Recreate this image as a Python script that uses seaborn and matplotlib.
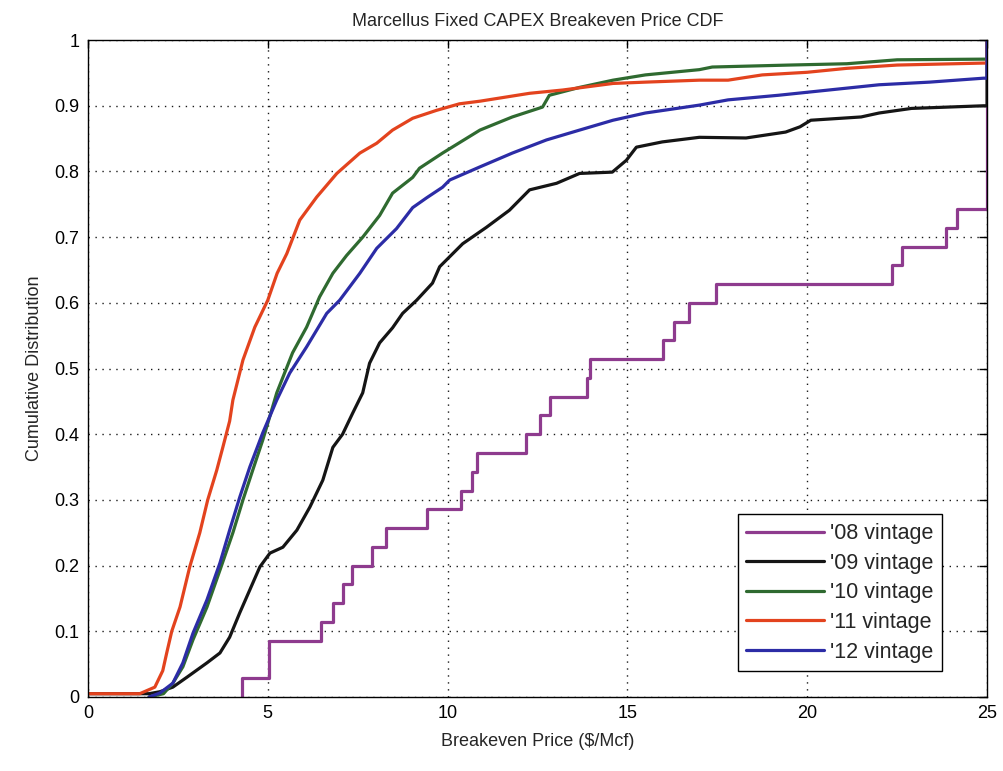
import matplotlib
matplotlib.use("Agg")
import matplotlib.pyplot as plt
import seaborn as sns
import pandas as pd
import numpy as np

# '08 vintage: individual breakeven prices (35 wells; prices capped at 25)
v08_prices = [4.28, 5.03, 5.03, 6.47, 6.80, 7.08, 7.33, 7.90, 8.28, 9.44,
              10.36, 10.67, 10.83, 12.17, 12.58, 12.86, 13.89, 13.97, 16.00,
              16.30, 16.72, 17.47, 22.36, 22.64, 23.86, 24.17,
              25, 25, 25, 25, 25, 25, 25, 25, 25]

# '09 vintage CDF
v09_x = [0.0, 1.7, 2.0, 2.36, 2.75, 3.31, 3.67, 3.94, 4.22, 4.5, 4.78, 5.06, 5.42,
         5.81, 6.17, 6.53, 6.81, 7.08, 7.36, 7.64, 7.83, 8.11, 8.47, 8.75, 9.14,
         9.58, 9.78, 10.42, 11.08, 11.72, 12.28, 13.03, 13.67, 14.58, 14.97,
         15.25, 15.97, 17.0, 18.3, 19.4, 19.8, 20.1, 21.5, 22.0, 22.9, 24.9, 25.0, 25.0]
v09_y = [0.005, 0.005, 0.008, 0.015, 0.03, 0.052, 0.067, 0.091, 0.128, 0.163, 0.198,
         0.219, 0.228, 0.254, 0.289, 0.33, 0.38, 0.40, 0.432, 0.463, 0.508, 0.539,
         0.562, 0.584, 0.604, 0.63, 0.655, 0.69, 0.715, 0.741, 0.772, 0.782, 0.797,
         0.799, 0.817, 0.837, 0.845, 0.852, 0.851, 0.86, 0.868, 0.878, 0.883, 0.889,
         0.896, 0.90, 0.90, 1.0]

# '10 vintage CDF
v10_x = [1.7, 2.1, 2.36, 2.64, 2.92, 3.31, 3.67, 4.03, 4.31, 4.58, 4.86, 4.97, 5.25,
         5.69, 6.08, 6.44, 6.81, 7.19, 7.64, 8.11, 8.47, 9.03, 9.22, 9.86, 10.9,
         11.8, 12.64, 12.83, 13.67, 14.6, 15.5, 17.0, 17.36, 19.5, 21.1, 22.5, 24.9,
         25.0, 25.0]
v10_y = [0.0, 0.005, 0.021, 0.046, 0.087, 0.137, 0.193, 0.25, 0.30, 0.345, 0.391,
         0.411, 0.463, 0.524, 0.563, 0.609, 0.645, 0.672, 0.70, 0.733, 0.767, 0.791,
         0.805, 0.828, 0.863, 0.883, 0.898, 0.916, 0.928, 0.939, 0.947, 0.955, 0.959,
         0.962, 0.964, 0.97, 0.971, 0.971, 1.0]

# '11 vintage CDF
v11_x = [0.0, 1.44, 1.86, 2.08, 2.19, 2.33, 2.56, 2.83, 3.11, 3.33, 3.58, 3.75, 3.94,
         4.03, 4.31, 4.64, 5.0, 5.26, 5.53, 5.89, 6.36, 6.92, 7.56, 8.03, 8.47,
         9.03, 9.69, 10.33, 10.9, 12.28, 13.2, 14.6, 15.5, 17.0, 17.8, 18.75, 20.0,
         21.1, 22.5, 24.9, 25.0, 25.0]
v11_y = [0.005, 0.005, 0.015, 0.04, 0.067, 0.10, 0.137, 0.198, 0.25, 0.30, 0.345,
         0.38, 0.42, 0.452, 0.513, 0.563, 0.604, 0.645, 0.675, 0.726, 0.761, 0.797,
         0.828, 0.843, 0.863, 0.881, 0.893, 0.903, 0.907, 0.919, 0.924, 0.934, 0.936,
         0.939, 0.939, 0.947, 0.951, 0.957, 0.962, 0.965, 0.965, 1.0]

# '12 vintage CDF
v12_x = [1.7, 2.0, 2.36, 2.64, 2.92, 3.31, 3.67, 3.94, 4.22, 4.5, 4.86, 5.25, 5.61,
         6.08, 6.64, 7.0, 7.56, 8.03, 8.58, 9.03, 9.42, 9.86, 10.06, 10.9, 11.8,
         12.75, 13.67, 14.6, 15.5, 17.0, 17.8, 19.2, 20.6, 22.0, 23.4, 24.9, 25.0, 25.0]
v12_y = [0.0, 0.006, 0.021, 0.052, 0.097, 0.148, 0.204, 0.254, 0.304, 0.35, 0.402,
         0.452, 0.493, 0.533, 0.584, 0.604, 0.645, 0.683, 0.713, 0.745, 0.760, 0.776,
         0.787, 0.807, 0.828, 0.848, 0.863, 0.878, 0.889, 0.901, 0.909, 0.916, 0.924,
         0.932, 0.936, 0.942, 0.942, 1.0]

labels = ["'08 vintage", "'09 vintage", "'10 vintage", "'11 vintage", "'12 vintage"]
colors = ["#8E3B8E", "#151515", "#2F6A30", "#E3431E", "#2C2CA6"]

sns.set_theme(style="white")
plt.rcParams['font.family'] = ['Liberation Sans Narrow', 'Liberation Sans', 'DejaVu Sans']

fig = plt.figure(figsize=(10.04, 7.71), dpi=100)
ax = fig.add_axes([0.0876, 0.096, 0.8955, 0.852])

lw = 2.3
sns.ecdfplot(x=v08_prices, ax=ax, color=colors[0], linewidth=lw, label=labels[0])
curves = [(v09_x, v09_y), (v10_x, v10_y), (v11_x, v11_y), (v12_x, v12_y)]
for (cx, cy), lab, col in zip(curves, labels[1:], colors[1:]):
    df = pd.DataFrame({"x": cx, "y": cy})
    sns.lineplot(data=df, x="x", y="y", ax=ax, sort=False, estimator=None,
                 color=col, linewidth=lw, label=lab)

ax.set_xlim(0, 25)
ax.set_ylim(0, 1)
ax.set_xticks([0, 5, 10, 15, 20, 25])
ax.set_yticks(np.round(np.arange(0, 1.01, 0.1), 1))
ax.set_xticklabels(["0", "5", "10", "15", "20", "25"])
ax.set_yticklabels(["0", "0.1", "0.2", "0.3", "0.4", "0.5", "0.6", "0.7", "0.8", "0.9", "1"])
ax.grid(True, linestyle=(0, (1, 4)), color="black", linewidth=1.0, alpha=0.9)
ax.tick_params(direction="in", length=6, width=1, top=True, right=True,
               labelsize=13, colors="black", pad=6)
for s in ax.spines.values():
    s.set_visible(True)
    s.set_color("black")
    s.set_linewidth(1.0)

ax.set_title("Marcellus Fixed CAPEX Breakeven Price CDF", fontsize=13, pad=10)
ax.set_xlabel("Breakeven Price ($/Mcf)", fontsize=13, labelpad=8)
ax.set_ylabel("Cumulative Distribution", fontsize=13, labelpad=8)

leg = ax.legend(loc="lower right", bbox_to_anchor=(0.962, 0.023), fontsize=15.5,
                frameon=True, fancybox=False, edgecolor="black", framealpha=1,
                handlelength=3.6, handletextpad=0.3, borderpad=0.4, labelspacing=0.4)
leg.get_frame().set_linewidth(1.0)

fig.savefig("out.png", dpi=100)
